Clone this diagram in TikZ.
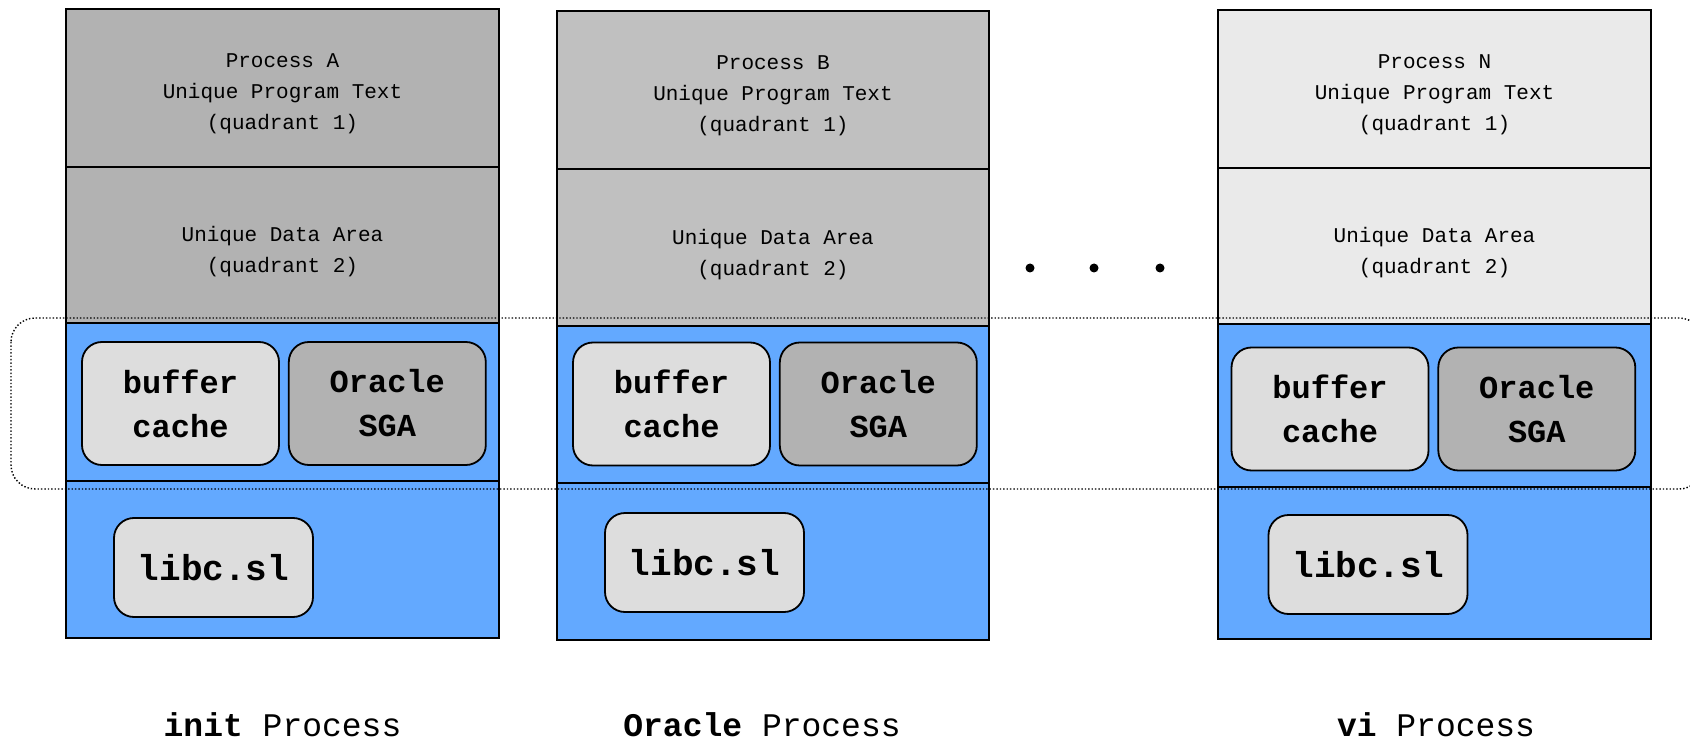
\documentclass[tikz,border=0pt]{standalone}
\usepackage{fontspec}
\setmainfont{Liberation Mono}
\usetikzlibrary{positioning}

\definecolor{grayA}{HTML}{B2B2B2}
\definecolor{grayB}{HTML}{C0C0C0}
\definecolor{grayN}{HTML}{EAEAEA}
\definecolor{libblue}{HTML}{63A9FF}
\definecolor{cachegray}{HTML}{DDDDDD}
\definecolor{sgagray}{HTML}{B2B2B2}

\begin{document}
\begin{tikzpicture}[%
  x=0.5pt, y=-0.5pt,
  quad/.style={draw=black, line width=1pt},
  quadtext/.style={align=center, font=\fontsize{10.5}{15.5}\selectfont},
  membox/.style={draw=black, line width=0.9pt, rounded corners=10pt, fill=cachegray,
    align=center, inner sep=0pt, minimum width=98.5pt, minimum height=61.5pt,
    font=\bfseries\fontsize{16}{22}\selectfont},
  sgabox/.style={membox, fill=sgagray},
  libbox/.style={membox, minimum width=99.5pt, minimum height=49.5pt,
    font=\bfseries\fontsize{18}{22}\selectfont},
  proclabel/.style={anchor=base, font=\fontsize{16.5}{20}\selectfont},
  etcdot/.style={circle, fill=black, inner sep=0pt, minimum size=4.5pt},
]

  \useasboundingbox (0,0) rectangle (1690,748);

  \draw[quad, fill=grayA] (66,9) rectangle (499,167);
  \draw[quad, fill=grayA] (66,167) rectangle (499,323);
  \draw[quad, fill=libblue] (66,323) rectangle (499,481);
  \draw[quad, fill=libblue] (66,481) rectangle (499,638);
  \node[quadtext] (textA) at (282.5,94) {Process A\\Unique Program Text\\(quadrant 1)};
  \node[quadtext] (dataA) at (282.5,252) {Unique Data Area\\(quadrant 2)};
  \node[membox] (cacheA) at (180.5,403.5) {buffer\\cache};
  \node[sgabox, right=4pt of cacheA] (sgaA) {Oracle\\SGA};
  \node[libbox] (libA) at (213.5,567.5) {libc.sl};
  \node[proclabel] (procA) at (282.5,736) {\textbf{init} Process};

  \draw[quad, fill=grayB] (557,11) rectangle (989,169);
  \draw[quad, fill=grayB] (557,169) rectangle (989,326);
  \draw[quad, fill=libblue] (557,326) rectangle (989,483);
  \draw[quad, fill=libblue] (557,483) rectangle (989,640);
  \node[quadtext] (textB) at (773,96) {Process B\\Unique Program Text\\(quadrant 1)};
  \node[quadtext] (dataB) at (773,255) {Unique Data Area\\(quadrant 2)};
  \node[membox] (cacheB) at (671.5,404) {buffer\\cache};
  \node[sgabox, right=4pt of cacheB] (sgaB) {Oracle\\SGA};
  \node[libbox] (libB) at (704.5,562.5) {libc.sl};
  \node[proclabel] (procB) at (762,736) {\textbf{Oracle} Process};

  \node[etcdot] (dot1) at (1030,268) {};
  \node[etcdot] (dot2) at (1094,268) {};
  \node[etcdot] (dot3) at (1160,268) {};

  \draw[quad, fill=grayN] (1218,10) rectangle (1651,168);
  \draw[quad, fill=grayN] (1218,168) rectangle (1651,324);
  \draw[quad, fill=libblue] (1218,324) rectangle (1651,487);
  \draw[quad, fill=libblue] (1218,487) rectangle (1651,639);
  \node[quadtext] (textN) at (1434.5,95) {Process N\\Unique Program Text\\(quadrant 1)};
  \node[quadtext] (dataN) at (1434.5,253) {Unique Data Area\\(quadrant 2)};
  \node[membox] (cacheN) at (1330,409) {buffer\\cache};
  \node[sgabox, right=4pt of cacheN] (sgaN) {Oracle\\SGA};
  \node[libbox] (libN) at (1368,564.5) {libc.sl};
  \node[proclabel] (procN) at (1436,736) {\textbf{vi} Process};

  \begin{scope}
    \clip (0,0) rectangle (1690,748);
    \draw[densely dotted, line width=0.7pt, rounded corners=12pt] (11,318) rectangle (1703,489);
  \end{scope}

\end{tikzpicture}
\end{document}
